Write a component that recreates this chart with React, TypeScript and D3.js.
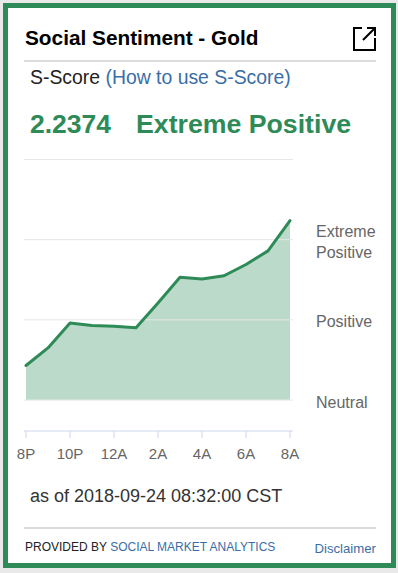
import React, { useEffect } from 'react';
import * as d3 from 'd3';

// hourly S-Score readings, 8P .. 8A
const hours = [0, 1, 2, 3, 4, 5, 6, 7, 8, 9, 10, 11, 12];
const scores = [0.43, 0.65, 0.96, 0.93, 0.92, 0.9, 1.21, 1.53, 1.51, 1.55, 1.69, 1.86, 2.2374];

const tickHours = [0, 2, 4, 6, 8, 10, 12];
const tickLabels = ['8P', '10P', '12A', '2A', '4A', '6A', '8A'];

const levelValues = [0, 1, 2, 3];
const levelLabels: { value: number; lines: string[] }[] = [
  { value: 2, lines: ['Extreme', 'Positive'] },
  { value: 1, lines: ['Positive'] },
  { value: 0, lines: ['Neutral'] },
];

const GREEN = '#2e8b57';
const BLUE = '#3a6ea5';
const FONT = '"Liberation Sans", Arial, sans-serif';

const App: React.FC = () => {
  useEffect(() => {
    document.body.style.margin = '0';
  }, []);

  const W = 398;
  const H = 573;

  const x = d3.scaleLinear().domain([0, 12]).range([26, 290]);
  const y = d3.scaleLinear().domain([0, 3]).range([400, 159.5]);

  const pts = hours.map((h, i) => [h, scores[i]] as [number, number]);

  const area = d3.area<[number, number]>()
    .x(d => x(d[0]))
    .y0(y(0))
    .y1(d => y(d[1]));

  const line = d3.line<[number, number]>()
    .x(d => x(d[0]))
    .y(d => y(d[1]));

  const axisY = 431;

  return (
    <svg width={W} height={H} style={{ display: 'block', fontFamily: FONT }}>
      <rect x={0} y={0} width={W} height={H} fill="#e9e9e9" />
      <rect x={5.5} y={5.5} width={388} height={560} fill="#fff" stroke={GREEN} strokeWidth={5} />

      {/* Header */}
      <text x={25} y={45} fontSize={20.8} fontWeight="bold" fill="#000">Social Sentiment - Gold</text>
      <g fill="none" stroke="#000" strokeWidth={2}>
        <path d="M362,28 H354 V50 H375 V38" />
        <path d="M363,40 L374.5,28.5 M367,28 H375 V36" />
      </g>
      <line x1={24} x2={376} y1={61} y2={61} stroke="#dcdcdc" strokeWidth={2} />

      <text x={30} y={84} fontSize={19.4} fill="#222">
        S-Score <tspan fill={BLUE}>(How to use S-Score)</tspan>
      </text>

      <text x={30} y={132.5} fontSize={26.5} fontWeight="bold" fill={GREEN}>2.2374</text>
      <text x={136} y={132.5} fontSize={26.7} fontWeight="bold" fill={GREEN}>Extreme Positive</text>

      {/* Chart */}
      <path d={area(pts) || ''} fill={GREEN} fillOpacity={0.32} />
      {levelValues.map(v => (
        <line key={v} x1={24} x2={293} y1={y(v)} y2={y(v)} stroke="#e6e6e6" strokeWidth={1} />
      ))}
      <path d={line(pts) || ''} fill="none" stroke={GREEN} strokeWidth={3} strokeLinejoin="round" strokeLinecap="round" />

      {levelLabels.map(l => (
        <text key={l.value} x={316} fontSize={16} fill="#666">
          {l.lines.map((t, i) => (
            <tspan key={t} x={316} y={y(l.value) + 7.5 - (l.lines.length - 1) * 10.5 + i * 21}>{t}</tspan>
          ))}
        </text>
      ))}

      <line x1={24} x2={293} y1={axisY} y2={axisY} stroke="#ccd6eb" strokeWidth={1} />
      {tickHours.map((h, i) => (
        <g key={h}>
          <line x1={x(h)} x2={x(h)} y1={axisY} y2={axisY + 7} stroke="#ccd6eb" strokeWidth={1} />
          <text x={x(h)} y={459} fontSize={15} fill="#666" textAnchor="middle">{tickLabels[i]}</text>
        </g>
      ))}

      {/* Footer */}
      <text x={30} y={501.5} fontSize={18} fill="#333">as of 2018-09-24 08:32:00 CST</text>
      <line x1={24} x2={376} y1={528} y2={528} stroke="#dcdcdc" strokeWidth={2} />
      <text x={25} y={551} fontSize={12} fill="#222">
        PROVIDED BY <tspan fill={BLUE}>SOCIAL MARKET ANALYTICS</tspan>
      </text>
      <text x={376} y={553} fontSize={13.2} fill={BLUE} textAnchor="end">Disclaimer</text>
    </svg>
  );
};

export default App;
